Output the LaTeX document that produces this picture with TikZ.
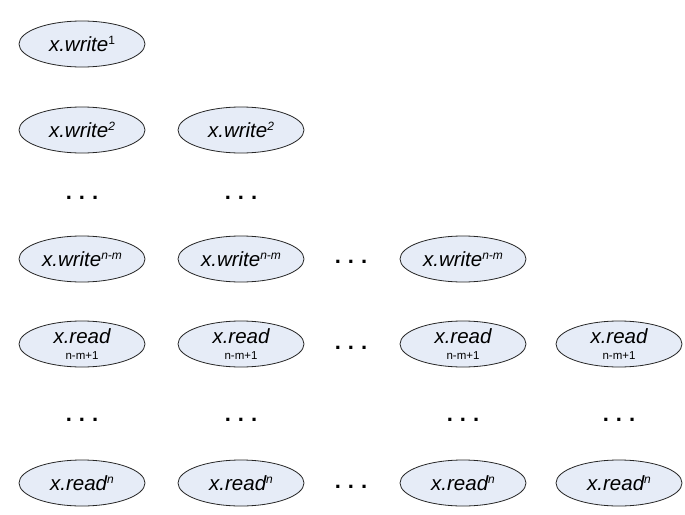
\documentclass[tikz,border=0pt]{standalone}
\usepackage{fontspec}
\setmainfont{Liberation Sans}
\usetikzlibrary{shapes.geometric}
\definecolor{ellfill}{HTML}{E6ECF7}
\tikzset{
  op/.style={ellipse, draw=black!85, line width=0.8pt, fill=ellfill,
    minimum width=126pt, minimum height=46pt, inner sep=0pt,
    font=\fontsize{20.5}{20}\selectfont\itshape, align=center},
  dots/.style={font=\fontsize{22}{22}\selectfont\bfseries, inner sep=0pt},
}
\newcommand{\supx}[1]{\raisebox{6.5pt}{\fontsize{12}{12}\selectfont #1}}
\newcommand{\dotsx}{.\hspace{7pt}.\hspace{7pt}.}
\newcommand{\rdop}{x.read\\[-4pt]{\upshape\fontsize{11.5}{12}\selectfont n-m+1}}
\begin{document}
\begin{tikzpicture}[x=1pt,y=1pt]
\useasboundingbox (0,0) rectangle (685,-514);
\node[op] (w1a) at (82,-44) {x.write\supx{\upshape 1}};
\node[op] (w2a) at (82,-130) {x.write\supx{2}};
\node[op] (w2b) at (241,-130) {x.write\supx{2}};
\node[dots] (d1a) at (82,-198) {\dotsx};
\node[dots] (d1b) at (241,-198) {\dotsx};
\node[op] (wna) at (82,-259) {x.write\supx{n-m}};
\node[op] (wnb) at (241,-259) {x.write\supx{n-m}};
\node[dots] (d2) at (351,-262) {\dotsx};
\node[op] (wnc) at (463,-259) {x.write\supx{n-m}};
\node[op] (ra) at (82,-344) {\rdop};
\node[op] (rb) at (241,-344) {\rdop};
\node[dots] (d3) at (351,-348) {\dotsx};
\node[op] (rc) at (463,-344) {\rdop};
\node[op] (rd) at (619,-344) {\rdop};
\node[dots] (d4a) at (82,-420) {\dotsx};
\node[dots] (d4b) at (241,-420) {\dotsx};
\node[dots] (d4c) at (463,-420) {\dotsx};
\node[dots] (d4d) at (619,-420) {\dotsx};
\node[op] (rna) at (82,-483) {x.read\supx{n}};
\node[op] (rnb) at (241,-483) {x.read\supx{n}};
\node[dots] (d5) at (351,-487) {\dotsx};
\node[op] (rnc) at (463,-483) {x.read\supx{n}};
\node[op] (rnd) at (619,-483) {x.read\supx{n}};
\end{tikzpicture}
\end{document}
